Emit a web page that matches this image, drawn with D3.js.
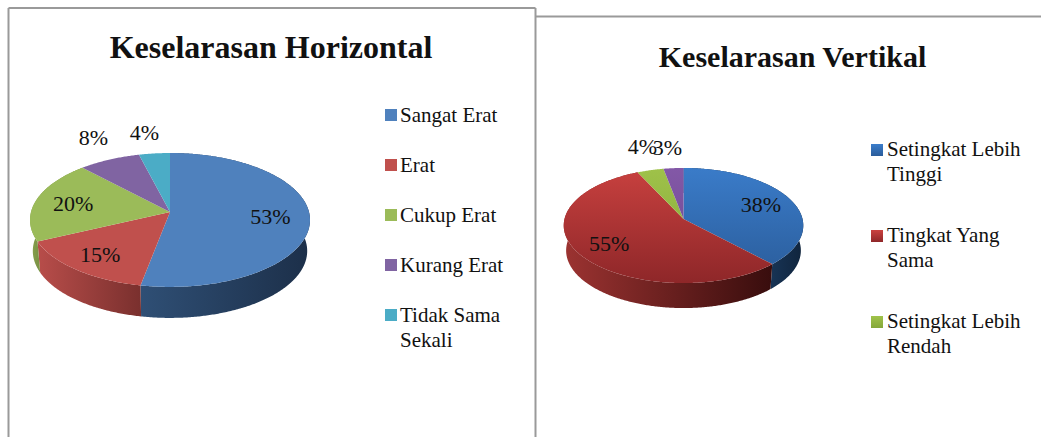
<!DOCTYPE html>
<html><head><meta charset="utf-8">
<script src="https://cdn.jsdelivr.net/npm/d3@7/dist/d3.min.js"></script>
<style>html,body{margin:0;padding:0;background:#fff;overflow:hidden}svg{display:block}text{font-family:"Liberation Serif",serif;fill:#111}</style>
</head><body><svg id="c" width="1041" height="437"></svg>
<script>
const horizontalTitle = "Keselarasan Horizontal";
const horizontalCategories = ["Sangat Erat","Erat","Cukup Erat","Kurang Erat","Tidak Sama Sekali"];
const horizontalValues = [53,15,20,8,4];
const verticalTitle = "Keselarasan Vertikal";
const verticalCategories = ["Setingkat Lebih Tinggi","Tingkat Yang Sama","Setingkat Lebih Rendah"];
const verticalValues = [38,55,4,3];
const verticalLegendLines = [["Setingkat Lebih","Tinggi"],["Tingkat Yang","Sama"],["Setingkat Lebih","Rendah"]];
const horizontalLegendLines = [["Sangat Erat"],["Erat"],["Cukup Erat"],["Kurang Erat"],["Tidak Sama","Sekali"]];

const svg = d3.select("#c");
const defs = svg.append("defs");
let gid = 0;
function grad(x1,y1,x2,y2,c1,c2){
  const id="g"+(gid++);
  const g=defs.append("linearGradient").attr("id",id).attr("gradientUnits","userSpaceOnUse")
    .attr("x1",x1).attr("y1",y1).attr("x2",x2).attr("y2",y2);
  g.append("stop").attr("offset",0).attr("stop-color",c1);
  g.append("stop").attr("offset",1).attr("stop-color",c2);
  return "url(#"+id+")";
}
// frames
const frame="#9a9a9a";
[[8.5,437,8.5,8],[8.5,8,535.5,8],[535.5,8,535.5,437],[535.5,16.5,1041,16.5]].forEach(l=>{
  svg.append("line").attr("x1",l[0]).attr("y1",l[1]).attr("x2",l[2]).attr("y2",l[3])
    .attr("stroke",frame).attr("stroke-width",2);
});

function pie3d(o){
  const x=d3.scaleLinear().domain([-1,1]).range([o.cx-o.ax,o.cx+o.ax]);
  const y=d3.scaleLinear().domain([-1,1]).range([o.cy-o.ay,o.cy+o.ay]);
  const arcs=d3.pie().sort(null)(o.values);
  const proj=(a,r=1)=>{const u=Math.sin(a)*r,v=-Math.cos(a)*r,w=1-o.e*v;return [x(u/w),y(v/w)];};
  const low=(p)=>[o.cx+(p[0]-o.cx)*o.lowScale,p[1]+o.depth];
  const line=d3.line();
  const rim=d=>{
    const n=Math.max(2,Math.ceil((d.endAngle-d.startAngle)/0.01));
    return d3.range(n+1).map(i=>d.startAngle+(d.endAngle-d.startAngle)*i/n);
  };
  // walls
  arcs.forEach((d,i)=>{
    const top=rim(d).map(a=>proj(a));
    const bot=top.map(low).reverse();
    const xs=top.filter(p=>Math.abs(p[1]-o.cy)>-1 && p[1]>=o.cy-4).map(p=>p[0]);
    if(!xs.length)return;
    const w=o.wall[i];
    svg.append("path").attr("d",line(top.concat(bot))+"Z")
      .attr("fill",grad(d3.min(xs),0,d3.max(xs),0,w[0],w[1]));
  });
  // tops
  arcs.forEach((d,i)=>{
    const pts=[[o.cx,o.cy]].concat(rim(d).map(a=>proj(a)));
    const f=o.face[i];
    svg.append("path").attr("d",line(pts)+"Z")
      .attr("fill",grad(0,o.cy-o.ay,0,o.cy+o.ay*1.1,f[0],f[1]));
  });
  // labels
  arcs.forEach((d,i)=>{
    const m=(d.startAngle+d.endAngle)/2, p=proj(m,o.labelR[i]), n=o.nudge[i];
    svg.append("text").attr("x",p[0]+n[0]).attr("y",p[1]+n[1]).attr("text-anchor","middle")
      .attr("dominant-baseline","central").attr("font-size",o.labelSize).text(d.value+"%");
  });
  // legend
  const ly=d3.scaleLinear().domain([0,1]).range([o.legendY,o.legendY+o.legendStep]);
  o.legend.forEach((lines,i)=>{
    const base=ly(i);
    svg.append("rect").attr("x",o.legendX).attr("y",base-o.swatchUp).attr("width",o.swatch).attr("height",o.swatch)
      .attr("fill",grad(0,base-o.swatchUp,0,base-o.swatchUp+o.swatch,o.face[i][0],o.face[i][1]));
    const t=svg.append("text").attr("font-size",o.legendSize);
    lines.forEach((s,j)=>t.append("tspan").attr("x",o.legendX+o.swatch+o.legendGap).attr("y",base+j*o.lineH).text(s));
  });
  svg.append("text").attr("x",o.titleX).attr("y",o.titleY).attr("text-anchor","middle")
    .attr("font-size",o.titleSize).attr("font-weight","bold").text(o.title);
}

pie3d({title:horizontalTitle,titleX:271,titleY:58,titleSize:32,
  values:horizontalValues,cx:170,cy:212,ax:139,ay:66,e:0.119,depth:31,lowScale:0.98,
  face:[["#4f81bd","#4f81bd"],["#c0504d","#c0504d"],["#9bbb59","#9bbb59"],["#8064a2","#8064a2"],["#4bacc6","#4bacc6"]],
  wall:[["#2f4f75","#1c2f49"],["#b84d4a","#7a302e"],["#8aa34f","#7c9446"],["#604a7b","#604a7b"],["#31859c","#31859c"]],
  labelR:[0.72,0.76,0.72,1,1],nudge:[[0,0],[0,0],[0,0],[-16,-22],[-10,-21]],labelSize:22,
  legend:horizontalLegendLines,legendX:385,legendY:122,legendStep:50,swatch:12,swatchUp:13,legendGap:3,legendSize:21,lineH:25});

pie3d({title:verticalTitle,titleX:792.5,titleY:67,titleSize:30,
  values:verticalValues,cx:683.5,cy:219,ax:119,ay:56.8,e:0.113,depth:25,lowScale:0.98,
  face:[["#3b7dcb","#2a5c9a"],["#cb4240","#8f2729"],["#a0c34a","#84a73a"],["#8459a8","#6d478f"]],
  wall:[["#173354","#10243c"],["#9c3331","#380d0d"],["#7f9a3a","#7f9a3a"],["#5e3f7c","#5e3f7c"]],
  labelR:[0.72,0.72,1,1],nudge:[[0,0],[0,0],[-8,-24],[-6,-21]],labelSize:22,
  legend:verticalLegendLines,legendX:871,legendY:156,legendStep:86,swatch:12,swatchUp:12,legendGap:4,legendSize:21,lineH:25});
</script></body></html>
